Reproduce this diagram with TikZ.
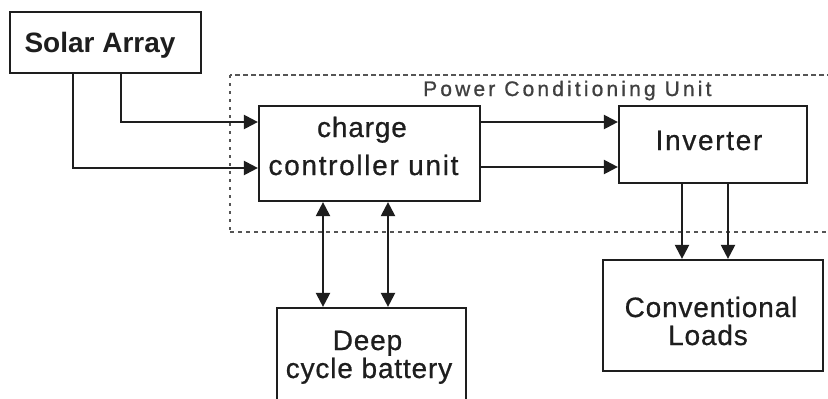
\documentclass[tikz,border=0pt]{standalone}
\usepackage{fontspec}
\setmainfont{Liberation Sans}
\usetikzlibrary{arrows.meta}
\definecolor{ink}{HTML}{1E1E1E}
\definecolor{dash}{HTML}{555555}
\tikzset{
  box/.style={draw=ink, line width=2.2pt, rectangle, inner sep=0pt, fill=white},
  txt/.style={text=ink, inner sep=0pt, anchor=base, font=\fontsize{28}{30}\selectfont\addfontfeature{LetterSpace=3,FakeBold=0.7}},
  txtw/.style={text=ink, inner sep=0pt, anchor=base, font=\fontsize{28}{30}\selectfont\addfontfeature{LetterSpace=6,FakeBold=0.7}},
  arr/.style={draw=ink, line width=2.2pt, -{Triangle[length=14pt,width=14pt]}},
  darr/.style={draw=ink, line width=2.2pt, {Triangle[length=14pt,width=14pt]}-{Triangle[length=14pt,width=14pt]}},
  pcu/.style={draw=dash, line width=2.4pt},
}
\begin{document}
\begin{tikzpicture}[x=1pt, y=-1pt]
\clip (0,0) rectangle (828,399);
\fill[white] (0,0) rectangle (828,399);
% power conditioning unit frame
\draw[pcu, dash pattern=on 5pt off 3pt] (840,75) -- (230,75);
\draw[pcu, dash pattern=on 3pt off 5pt] (230,75) -- (230,232);
\draw[pcu, dash pattern=on 4pt off 4pt] (230,232) -- (840,232);
\node[text=ink!85, inner sep=0pt, anchor=base west, font=\fontsize{21}{23}\selectfont\addfontfeature{LetterSpace=15,FakeBold=0.9}] (pcut) at (423,96) {Power Conditioning Unit};
% boxes
\node[box, minimum width=191pt, minimum height=61pt] (sa) at (105.5,42.5) {};
\node[box, minimum width=221pt, minimum height=95pt] (cc) at (369.5,153.5) {};
\node[box, minimum width=188pt, minimum height=77pt] (inv) at (713,144.5) {};
\node[box, minimum width=220pt, minimum height=111pt] (cl) at (713,315.5) {};
\node[box, minimum width=189pt, minimum height=120pt] (dcb) at (371.5,368) {};
% texts
\node[text=ink, inner sep=0pt, anchor=base, font=\fontsize{28}{30}\selectfont\bfseries] (sat) at (100,52) {Solar Array};
\node[txt] (cct1) at (362,137) {charge};
\node[txtw] (cct2) at (363.5,175) {controller unit};
\node[txtw] (invt) at (709,150) {Inverter};
\node[txt] (clt1) at (711,317) {Conventional};
\node[txt] (clt2) at (708,345) {Loads};
\node[txt] (dcbt1) at (367.5,350) {Deep};
\node[txt] (dcbt2) at (369,378) {cycle battery};
% connectors
\draw[arr] (sa.south -| 121,0) |- (cc.west |- 0,122);
\draw[arr] (sa.south -| 73,0) |- (cc.west |- 0,168);
\draw[arr] (cc.east |- 0,122) -- (inv.west |- 0,122);
\draw[arr] (cc.east |- 0,167) -- (inv.west |- 0,167);
\draw[arr] (inv.south -| 682,0) -- (cl.north -| 682,0);
\draw[arr] (inv.south -| 728,0) -- (cl.north -| 728,0);
\draw[darr] (cc.south -| 323,0) -- (dcb.north -| 323,0);
\draw[darr] (cc.south -| 388,0) -- (dcb.north -| 388,0);
\end{tikzpicture}
\end{document}
